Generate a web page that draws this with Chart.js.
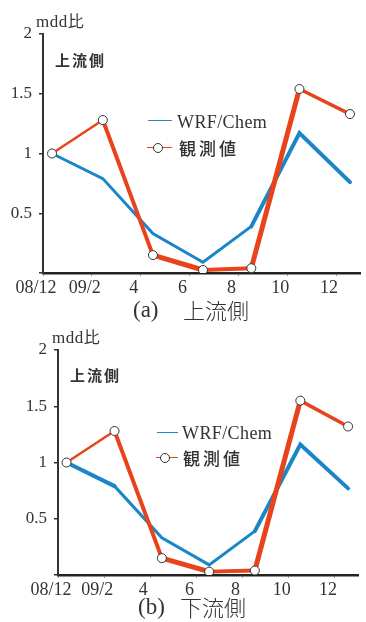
<!DOCTYPE html>
<html><head><meta charset="utf-8">
<script src="https://cdn.jsdelivr.net/npm/chart.js@4.4.0/dist/chart.umd.min.js"></script>
<style>
html,body{margin:0;padding:0;background:#fff;width:366px;height:622px;overflow:hidden;position:relative}
canvas{position:absolute;left:0}
.t{position:absolute;white-space:nowrap;color:#333;line-height:1}
.serif{font-family:"Liberation Serif","DejaVu Serif",serif}
.jp{font-family:"Noto Sans CJK JP",sans-serif}
.ln{position:absolute;height:0}
.dot{position:absolute;width:8px;height:8px;border:1px solid #333;border-radius:50%;background:#fff}
</style></head><body>
<canvas id="c1" width="366" height="300" style="top:0"></canvas>
<canvas id="c2" width="366" height="282" style="top:320px"></canvas>

<div class="t" style="left:36px;top:12px"><span class="serif" style="font-size:17px;letter-spacing:0.5px">mdd</span><span class="jp" style="font-size:16px">比</span></div>
<div class="t jp" style="left:55px;top:52px;font-size:15px;font-weight:700;letter-spacing:2px">上流側</div>
<div class="ln" style="left:148px;top:120px;width:24px;border-top:1.5px solid #1e88d0"></div>
<div class="t serif" style="left:177px;top:113px;font-size:18px;letter-spacing:0.4px">WRF/Chem</div>
<div class="ln" style="left:147px;top:147px;width:25px;border-top:1.5px solid #e8431a"></div>
<div class="dot" style="left:153px;top:143px"></div>
<div class="t jp" style="left:179px;top:139px;font-size:17px;font-weight:500;letter-spacing:3px">観測値</div>
<div class="t serif" style="left:133px;top:298px;font-size:23px">(a)</div>
<div class="t jp" style="left:183px;top:298px;font-size:22px;font-weight:300">上流側</div>

<div class="t" style="left:52px;top:328px"><span class="serif" style="font-size:17px;letter-spacing:0.5px">mdd</span><span class="jp" style="font-size:16px">比</span></div>
<div class="t jp" style="left:70px;top:367px;font-size:15px;font-weight:700;letter-spacing:2px">上流側</div>
<div class="ln" style="left:157px;top:432px;width:21px;border-top:1.5px solid #1e88d0"></div>
<div class="t serif" style="left:182px;top:424px;font-size:18px;letter-spacing:0.4px">WRF/Chem</div>
<div class="ln" style="left:156px;top:457px;width:22px;border-top:1.5px solid #e8431a"></div>
<div class="dot" style="left:160px;top:453px"></div>
<div class="t jp" style="left:183px;top:449px;font-size:17px;font-weight:500;letter-spacing:3px">観測値</div>
<div class="t serif" style="left:138px;top:595px;font-size:23px">(b)</div>
<div class="t jp" style="left:180px;top:595px;font-size:22px;font-weight:300">下流側</div>

<script>
// ---- data ----
const periodX = [0.37, 2.45, 4.5, 6.55, 8.53, 10.5, 12.57];
const xTickValues = [0, 2, 4, 6, 8, 10, 12];
const xTickLabels = ['08/12', '09/2', '4', '6', '8', '10', '12'];
const yTickValues = [0, 0.5, 1, 1.5, 2];
const upWRF  = [1.0, 0.79, 0.33, 0.09, 0.39, 1.17, 0.76];
const upObs  = [1.0, 1.28, 0.15, 0.025, 0.04, 1.54, 1.33];
const downWRF = [1.0, 0.79, 0.33, 0.09, 0.39, 1.16, 0.77];
const downObs = [1.0, 1.28, 0.15, 0.03, 0.04, 1.55, 1.32];

// ---- styles ----
const BLUE = '#1a86c7', RED = '#e8431a';
const upWRFWidths = [3, 3, 3, 3, 4, 4];
const upObsWidths = [2.5, 4, 5, 4, 5, 3.5];
const downWRFWidths = [4, 3, 3, 3, 4, 4];
const downObsWidths = [2.5, 4, 5, 4, 5, 3.5];

function pts(xs, ys) { return xs.map((x, i) => ({x: x, y: ys[i]})); }

function makeChart(id, wrf, obs, wrfW, obsW, geo) {
  new Chart(document.getElementById(id), {
    type: 'line',
    data: {
      datasets: [
        {
          data: pts(periodX, obs), borderColor: RED, borderWidth: 4,
          borderCapStyle: 'round', borderJoinStyle: 'miter',
          segment: { borderWidth: c => obsW[c.p0DataIndex] },
          pointRadius: 4.5, pointBackgroundColor: '#fff', pointBorderColor: '#333',
          pointBorderWidth: 1, order: 0, tension: 0
        },
        {
          data: pts(periodX, wrf), borderColor: BLUE, borderWidth: 3,
          borderCapStyle: 'round', borderJoinStyle: 'miter',
          segment: { borderWidth: c => wrfW[c.p0DataIndex] },
          pointRadius: 0, order: 1, tension: 0
        }
      ]
    },
    options: {
      responsive: false, animation: false,
      layout: { padding: { left: 0, right: geo.right, top: geo.top, bottom: 0 } },
      plugins: { legend: { display: false }, tooltip: { enabled: false } },
      scales: {
        x: {
          type: 'linear', min: 0, max: 13,
          afterBuildTicks: s => { s.ticks = xTickValues.map(v => ({value: v})); },
          afterFit: s => { s.height = 27; },
          border: { color: '#222', width: 2.5 },
          grid: { drawOnChartArea: false, drawTicks: true, tickLength: 3, color: '#999', lineWidth: 1 },
          ticks: {
            padding: 1, labelOffset: -7, maxRotation: 0, autoSkip: false,
            color: '#333', font: { family: 'Liberation Serif', size: 18 },
            callback: v => { const i = xTickValues.indexOf(v); return i >= 0 ? xTickLabels[i] : ''; }
          }
        },
        y: {
          min: 0, max: 2,
          afterBuildTicks: s => { s.ticks = yTickValues.map(v => ({value: v})); },
          afterFit: s => { s.width = geo.left; },
          border: { color: '#333', width: 2 },
          grid: { drawOnChartArea: false, drawTicks: true, tickLength: 4, color: '#333', lineWidth: 1.5 },
          ticks: {
            padding: 7, color: '#333', font: { family: 'Liberation Serif', size: 17 },
            callback: v => v === 0 ? '' : String(v)
          }
        }
      }
    }
  });
}

makeChart('c1', upWRF, upObs, upWRFWidths, upObsWidths, { left: 43, right: 4, top: 34 });
makeChart('c2', downWRF, downObs, downWRFWidths, downObsWidths, { left: 58, right: 8, top: 30 });
</script>
</body></html>
